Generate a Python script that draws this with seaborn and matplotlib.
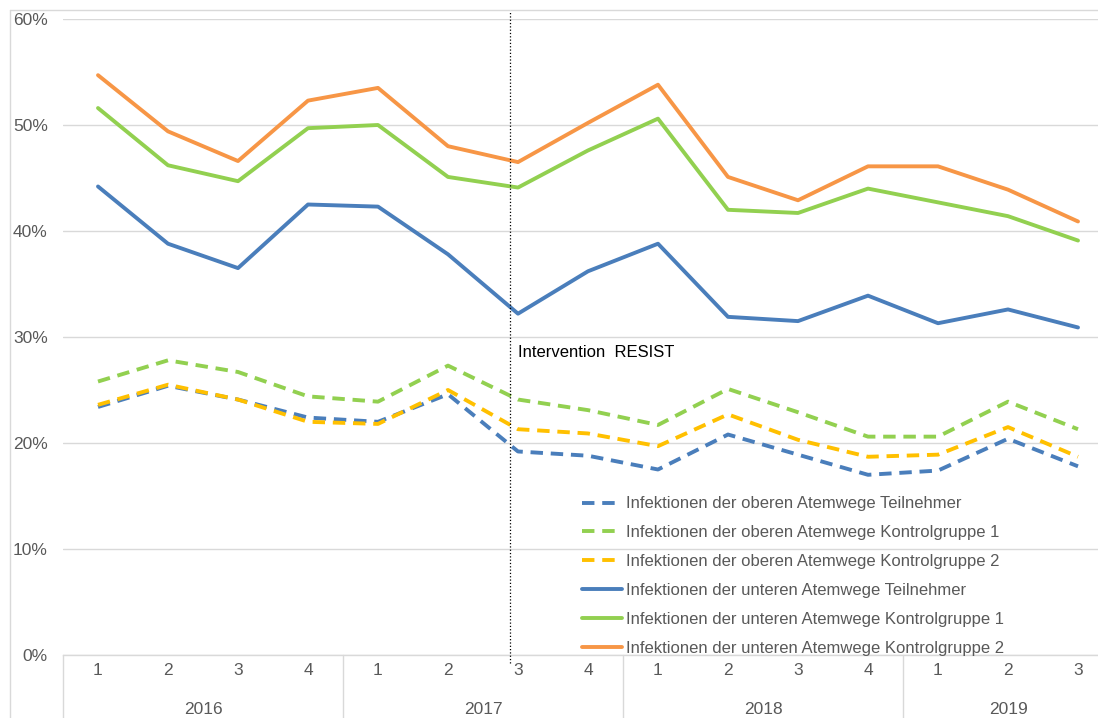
import pandas as pd
import matplotlib.pyplot as plt
import matplotlib.transforms as mtransforms
from matplotlib.lines import Line2D
import seaborn as sns

# quarters 2016 Q1 .. 2019 Q3
years = ["2016", "2017", "2018", "2019"]
year_of_quarter = ["2016"] * 4 + ["2017"] * 4 + ["2018"] * 4 + ["2019"] * 3
quarters = ["1", "2", "3", "4", "1", "2", "3", "4", "1", "2", "3", "4", "1", "2", "3"]
intervention_idx = 5.89  # just before 2017 Q3

# values in percent
obere_teilnehmer = [23.4, 25.4, 24.1, 22.4, 22.0, 24.6, 19.2, 18.8, 17.5, 20.8, 18.9, 17.0, 17.4, 20.4, 17.8]
obere_kontrol1 = [25.8, 27.8, 26.7, 24.4, 23.9, 27.3, 24.1, 23.1, 21.7, 25.1, 22.9, 20.6, 20.6, 23.9, 21.3]
obere_kontrol2 = [23.6, 25.5, 24.1, 22.0, 21.8, 25.0, 21.3, 20.9, 19.7, 22.7, 20.3, 18.7, 18.9, 21.5, 18.7]
untere_teilnehmer = [44.2, 38.8, 36.5, 42.5, 42.3, 37.8, 32.2, 36.2, 38.8, 31.9, 31.5, 33.9, 31.3, 32.6, 30.9]
untere_kontrol1 = [51.6, 46.2, 44.7, 49.7, 50.0, 45.1, 44.1, 47.6, 50.6, 42.0, 41.7, 44.0, 42.7, 41.4, 39.1]
untere_kontrol2 = [54.7, 49.4, 46.6, 52.3, 53.5, 48.0, 46.5, 50.2, 53.8, 45.1, 42.9, 46.1, 46.1, 43.9, 40.9]

series_names = [
    "Infektionen der oberen Atemwege Teilnehmer",
    "Infektionen der oberen Atemwege Kontrolgruppe 1",
    "Infektionen der oberen Atemwege Kontrolgruppe 2",
    "Infektionen der unteren Atemwege Teilnehmer",
    "Infektionen der unteren Atemwege Kontrolgruppe 1",
    "Infektionen der unteren Atemwege Kontrolgruppe 2",
]
series_values = [obere_teilnehmer, obere_kontrol1, obere_kontrol2,
                 untere_teilnehmer, untere_kontrol1, untere_kontrol2]
series_colors = ["#4A7EBB", "#92D050", "#FFC000", "#4A7EBB", "#92D050", "#F79646"]
dash_short = (3.2, 2.0)
series_dashes = [dash_short, dash_short, dash_short, "", "", ""]

rows = []
for name, vals in zip(series_names, series_values):
    for i, v in enumerate(vals):
        rows.append({"idx": i, "wert": v, "reihe": name})
df = pd.DataFrame(rows)

sns.set_style("white")
plt.rcParams["font.family"] = ["Liberation Sans", "DejaVu Sans"]
gray = "#595959"
grid = "#D9D9D9"

fig = plt.figure(figsize=(10.98, 7.18), dpi=100)
ax = fig.add_axes([63 / 1098, 63 / 718, 1050 / 1098, 636 / 718])

sns.lineplot(data=df, x="idx", y="wert", hue="reihe", style="reihe",
             hue_order=series_names, style_order=series_names,
             palette=dict(zip(series_names, series_colors)),
             dashes=dict(zip(series_names, series_dashes)),
             linewidth=2.8, ax=ax, legend=False, zorder=3)
for ln in ax.get_lines():
    ln.set_solid_capstyle("round")
    ln.set_dash_capstyle("butt")

ax.set_xlim(-0.5, len(quarters) - 0.5)
ax.set_ylim(0, 60)
ax.set_yticks(range(0, 61, 10))
ax.set_yticklabels([f"{v}%" for v in range(0, 61, 10)])
ax.set_xticks(range(len(quarters)))
ax.set_xticklabels(quarters)
ax.tick_params(axis="y", length=0, pad=11, labelsize=12.5, labelcolor=gray)
ax.tick_params(axis="x", length=0, pad=6, labelsize=12.5, labelcolor=gray)
ax.set_xlabel("")
ax.set_ylabel("")
ax.grid(axis="y", color=grid, linewidth=1)
ax.grid(axis="x", visible=False)
for side in ["left", "right", "top"]:
    ax.spines[side].set_visible(False)
ax.spines["bottom"].set_color(grid)
ax.spines["bottom"].set_linewidth(1)

# year groups below the axis
trans = mtransforms.blended_transform_factory(ax.transData, ax.transAxes)
start = 0
for yr in years:
    n = year_of_quarter.count(yr)
    ax.axvline(start - 0.5, ymin=-0.1, ymax=0, color=grid, linewidth=1, clip_on=False)
    ax.text(start + (n - 1) / 2, -0.086, yr, transform=trans, ha="center", va="center",
            fontsize=12.5, color=gray)
    start += n
ax.axvline(start - 0.5, ymin=-0.1, ymax=0, color=grid, linewidth=1, clip_on=False)

# intervention marker
ax.axvline(intervention_idx, ymin=-0.013, ymax=1.014, color="black", linestyle=":",
           linewidth=0.9, clip_on=False, zorder=4)
ax.text(6.0, 28.5, "Intervention  RESIST", ha="left", va="center",
        fontsize=12, color="black")

handles = [Line2D([0], [0], color=c, linewidth=2.8,
                  linestyle=(0, d) if d else "-")
           for c, d in zip(series_colors, series_dashes)]
leg = ax.legend(handles, series_names, loc="upper left", bbox_to_anchor=(574 / 1098, 1 - 488 / 718),
                bbox_transform=fig.transFigure, frameon=False, fontsize=12,
                handlelength=2.4, handletextpad=0.25, labelspacing=0.83, borderpad=0)
for t in leg.get_texts():
    t.set_color(gray)

# outer chart border
fig.add_artist(Line2D([10 / 1098, 10 / 1098], [0, 1 - 10 / 718], color=grid, linewidth=1))
fig.add_artist(Line2D([10 / 1098, 1], [1 - 10 / 718, 1 - 10 / 718], color=grid, linewidth=1))

fig.savefig("out.png", dpi=100)
